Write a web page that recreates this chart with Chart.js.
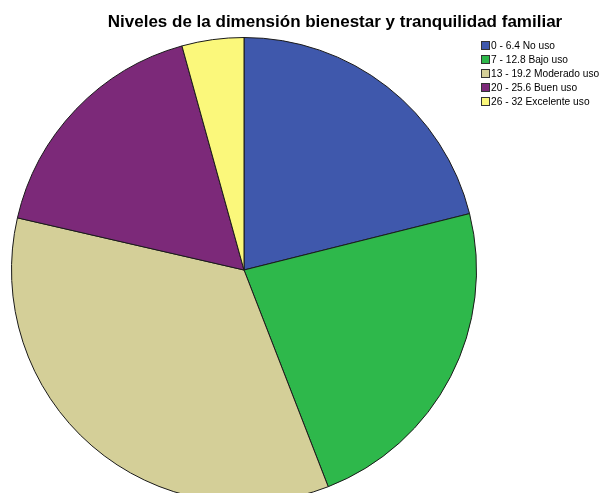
<!DOCTYPE html>
<html>
<head>
<meta charset="utf-8">
<script src="https://cdn.jsdelivr.net/npm/chart.js@4"></script>
<style>
  body { margin: 0; width: 609px; height: 493px; overflow: hidden; background: #fff; position: relative; font-family: "Liberation Sans", Arial, sans-serif; }
  #titulo { position: absolute; left: 60px; top: 12px; width: 550px; text-align: center; font-weight: bold; font-size: 17px; color: #000; }
  #leyenda { position: absolute; left: 481px; top: 39px; font-size: 10.2px; color: #000; }
  #leyenda div { height: 14px; line-height: 14px; white-space: nowrap; }
  #leyenda span { display: inline-block; width: 9px; height: 9px; border: 1px solid #333; vertical-align: -1px; margin-right: 1px; box-sizing: border-box; }
  #pie { position: absolute; left: 0; top: 0; }
</style>
</head>
<body>
<canvas id="pie" width="609" height="510"></canvas>
<div id="titulo">Niveles de la dimensión bienestar y tranquilidad familiar</div>
<div id="leyenda"></div>
<script>
// categorías y porcentajes
var categorias = ['0 - 6.4 No uso', '7 - 12.8 Bajo uso', '13 - 19.2 Moderado uso', '20 - 25.6 Buen uso', '26 - 32 Excelente uso'];
var porcentajes = [21.1, 23.0, 34.5, 17.1, 4.3];
var colores = ['#3f58ac', '#2eb84b', '#d4cf98', '#7c2979', '#fbf87b'];

// leyenda en html
var ley = document.getElementById('leyenda');
categorias.forEach(function (c, i) {
    var fila = document.createElement('div');
    fila.innerHTML = '<span style="background:' + colores[i] + '"></span>' + c;
    ley.appendChild(fila);
});

var ctx = document.getElementById('pie').getContext('2d');
var pieChart = new Chart(ctx, {
    type: 'pie',
    data: {
        labels: categorias,
        datasets: [{
            data: porcentajes,
            backgroundColor: colores,
            borderColor: '#1a1a1a',
            borderWidth: 1
        }]
    },
    options: {
        responsive: false,
        animation: false,
        layout: { padding: { left: 11, right: 132, top: 37, bottom: 7 } },
        plugins: {
            legend: { display: false },
            title: { display: false },
            tooltip: { enabled: false }
        }
    }
});
</script>
</body>
</html>
